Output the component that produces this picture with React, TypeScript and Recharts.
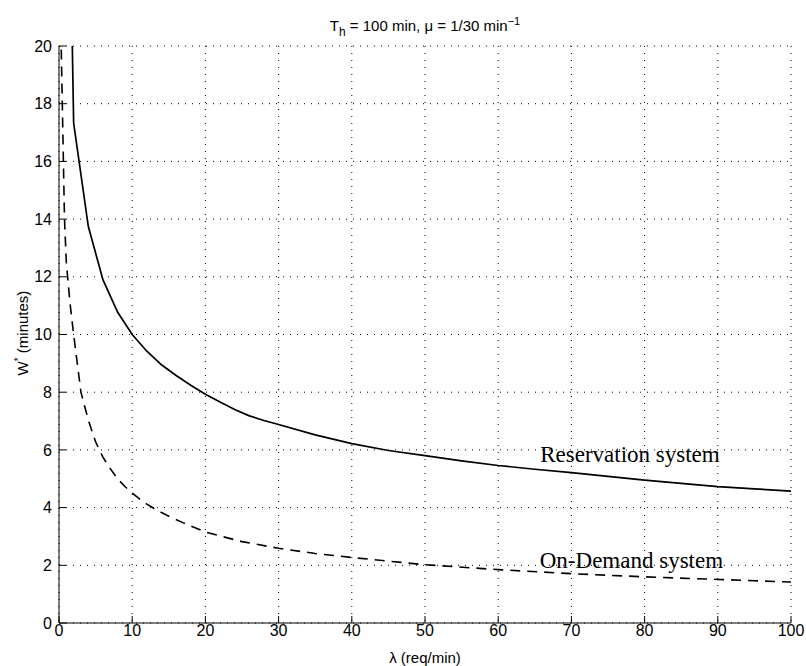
import { LineChart, Line, XAxis, YAxis, CartesianGrid, ReferenceDot } from 'recharts'

// arrival rate λ (req/min) and optimal wait W* (minutes) for each scheme
const reservationLambda = [1, 2, 4, 6, 8, 10, 12, 14, 16, 18, 20, 22, 24, 26, 28, 30, 35, 40, 45, 50, 55, 60, 65, 70, 75, 80, 85, 90, 95, 100]
const reservationWait = [32, 17.33, 13.75, 11.9, 10.78, 10.0, 9.42, 8.95, 8.58, 8.24, 7.93, 7.66, 7.4, 7.18, 7.02, 6.88, 6.52, 6.22, 5.98, 5.8, 5.62, 5.46, 5.33, 5.21, 5.08, 4.95, 4.84, 4.73, 4.65, 4.57]

const onDemandLambda = [0.2, 0.3, 0.45, 0.6, 0.75, 1, 1.5, 2, 3, 4, 5, 6, 7, 8, 9, 10, 11, 12, 13, 14, 15, 17, 20, 25, 30, 35, 40, 50, 60, 70, 80, 90, 100]
const onDemandWait = [24, 20, 18, 16, 14, 12.5, 11.1, 10.0, 8.0, 7.04, 6.28, 5.75, 5.35, 5.0, 4.73, 4.5, 4.3, 4.12, 3.97, 3.83, 3.7, 3.47, 3.15, 2.82, 2.59, 2.41, 2.27, 2.02, 1.85, 1.71, 1.6, 1.51, 1.42]

const xTicks = [0, 10, 20, 30, 40, 50, 60, 70, 80, 90, 100]
const yTicks = [0, 2, 4, 6, 8, 10, 12, 14, 16, 18, 20]

const reservation = reservationLambda.map((lambda, i) => ({ lambda, w: reservationWait[i] }))
const onDemand = onDemandLambda.map((lambda, i) => ({ lambda, w: onDemandWait[i] }))

const serif = "'Liberation Serif', 'Times New Roman', serif"

function YLabel() {
  return (
    <text x={28} y={333} transform="rotate(-90 28 333)" textAnchor="middle" fontSize={15} fill="#000">
      W<tspan dy={-6} fontSize={10}>*</tspan>
      <tspan dy={6}> (minutes)</tspan>
    </text>
  )
}

export default function App() {
  return (
    <div
      style={{
        position: 'absolute',
        left: 0,
        top: 0,
        width: 806,
        height: 666,
        background: '#fff',
        fontFamily: "'Liberation Sans', Arial, sans-serif",
      }}
    >
      <div style={{ position: 'absolute', left: 59, top: 17, width: 732, textAlign: 'center', fontSize: 15, lineHeight: '18px' }}>
        T<span style={{ fontSize: 12, position: 'relative', top: 5 }}>h</span> = 100 min, μ = 1/30 min
        <span style={{ fontSize: 11, position: 'relative', top: -6 }}>−1</span>
      </div>
      <LineChart width={806} height={666} margin={{ top: 46, right: 15, bottom: 0, left: 0 }}>
        <CartesianGrid xAxisId="b" yAxisId="l" stroke="#000" strokeDasharray="1 6" />
        <XAxis
          xAxisId="b"
          type="number"
          dataKey="lambda"
          domain={[0, 100]}
          ticks={xTicks}
          interval={0}
          height={43}
          stroke="#000"
          tickSize={-7}
          tickMargin={9}
          tick={{ fill: '#000', fontSize: 16 }}
          label={{ value: 'λ (req/min)', position: 'insideBottom', offset: 3, fill: '#000', fontSize: 15 }}
        />
        <XAxis xAxisId="t" orientation="top" type="number" domain={[0, 100]} ticks={xTicks} height={0} stroke="#000" tickSize={-7} tick={false} />
        <YAxis
          yAxisId="l"
          type="number"
          domain={[0, 20]}
          ticks={yTicks}
          interval={0}
          width={59}
          allowDataOverflow
          stroke="#000"
          tickSize={-7}
          tickMargin={14}
          tick={{ fill: '#000', fontSize: 16 }}
          label={{ content: () => <YLabel /> }}
        />
        <YAxis yAxisId="r" orientation="right" type="number" domain={[0, 20]} ticks={yTicks} width={0} stroke="#000" tickSize={-7} tick={false} />
        <Line
          xAxisId="b"
          yAxisId="l"
          data={reservation}
          dataKey="w"
          type="linear"
          stroke="#000"
          strokeWidth={1.7}
          dot={false}
          isAnimationActive={false}
        />
        <Line
          xAxisId="b"
          yAxisId="l"
          data={onDemand}
          dataKey="w"
          type="linear"
          stroke="#000"
          strokeWidth={1.6}
          strokeDasharray="10 7"
          dot={false}
          isAnimationActive={false}
        />
        <ReferenceDot
          xAxisId="b"
          yAxisId="l"
          x={78}
          y={5.86}
          r={1}
          fill="none"
          stroke="none"
          label={{ value: 'Reservation system', position: 'center', fill: '#000', fontSize: 23, fontFamily: serif }}
        />
        <ReferenceDot
          xAxisId="b"
          yAxisId="l"
          x={78.2}
          y={2.2}
          r={1}
          fill="none"
          stroke="none"
          label={{ value: 'On-Demand system', position: 'center', fill: '#000', fontSize: 23, fontFamily: serif }}
        />
      </LineChart>
    </div>
  )
}
